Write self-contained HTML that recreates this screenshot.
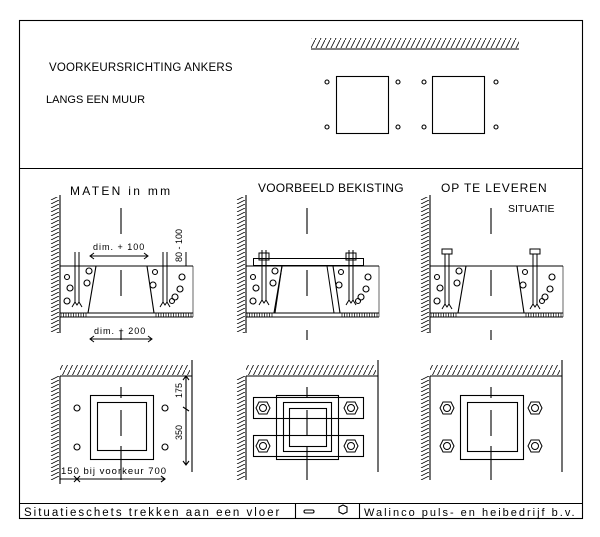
<!DOCTYPE html>
<html><head><meta charset="utf-8"><style>
html,body{margin:0;padding:0;background:#fff;}
svg{display:block;}
text{font-family:"Liberation Sans",sans-serif;fill:#000;}
</style></head><body>
<svg width="600" height="537" viewBox="0 0 600 537" xmlns="http://www.w3.org/2000/svg">
<defs>
<pattern id="hv" width="10" height="4" patternUnits="userSpaceOnUse">
<line x1="1" y1="4" x2="9" y2="0" stroke="#000" stroke-width="0.8"/>
</pattern>
<pattern id="hh" width="5" height="10" patternUnits="userSpaceOnUse">
<line x1="0" y1="10" x2="5" y2="0" stroke="#000" stroke-width="0.8"/>
</pattern>
<pattern id="hs" width="2.5" height="4" patternUnits="userSpaceOnUse">
<line x1="1" y1="0" x2="1" y2="4" stroke="#000" stroke-width="0.7"/>
</pattern>
<g id="sec" fill="none" stroke="#000" stroke-width="1.1">
<rect x="50" y="197" width="9" height="136" fill="url(#hv)" stroke="none"/>
<line x1="60" y1="195" x2="60" y2="333"/>
<line x1="60" y1="266" x2="193" y2="266"/>
<line x1="60" y1="313" x2="193" y2="313"/>
<line x1="60" y1="317" x2="193" y2="317"/>
<line x1="193" y1="266" x2="193" y2="317" stroke-width="0.6"/>
<line x1="96" y1="266" x2="88" y2="313"/>
<line x1="147" y1="266" x2="154" y2="313"/>
<rect x="61" y="313" width="27" height="4" fill="url(#hs)" stroke="none"/>
<rect x="154" y="313" width="38" height="4" fill="url(#hs)" stroke="none"/>
<circle cx="67" cy="277" r="2.5"/><circle cx="70" cy="288" r="3"/><circle cx="67" cy="301" r="3"/>
<circle cx="89" cy="271" r="3"/><circle cx="87" cy="283" r="3"/>
<circle cx="155" cy="272" r="2.5"/><circle cx="153" cy="285" r="3"/><circle cx="182" cy="277" r="3"/>
<circle cx="180" cy="289" r="3"/><circle cx="175" cy="297" r="3"/><circle cx="172" cy="301" r="2.5"/>
<line x1="121" y1="208" x2="121" y2="234"/>
<line x1="121" y1="270" x2="121" y2="296"/>
<line x1="121" y1="330" x2="121" y2="340"/>
</g>
<g id="anc" fill="none" stroke="#000" stroke-width="1">
<line x1="-2" y1="0" x2="-2" y2="50"/><line x1="2" y1="0" x2="2" y2="50"/>
<path d="M-5 55 L-2 50 L0 53 L2 50 L5 55"/>
</g>
<g id="plan" fill="none" stroke="#000" stroke-width="1.1">
<rect x="60" y="365" width="130" height="10" fill="url(#hh)" stroke="none"/>
<rect x="50" y="376" width="9" height="104" fill="url(#hv)" stroke="none"/>
<line x1="60" y1="376" x2="192" y2="376"/>
<line x1="60" y1="376" x2="60" y2="480"/>
<line x1="192" y1="360" x2="192" y2="472"/>
<line x1="121" y1="387" x2="121" y2="398"/>
<line x1="121" y1="410" x2="121" y2="436"/>
<line x1="121" y1="446" x2="121" y2="480"/>
</g>
<g id="nut" fill="none" stroke="#000" stroke-width="1">
<polygon points="-4,-6 4,-6 7,0 4,6 -4,6 -7,0"/><circle r="3.5"/>
</g>
</defs>
<g fill="none" stroke="#000" stroke-width="1.1">
<rect x="19.5" y="20.5" width="563" height="498"/>
<line x1="19" y1="168.5" x2="583" y2="168.5"/>
<line x1="19" y1="503.5" x2="583" y2="503.5"/>
<line x1="295.5" y1="503" x2="295.5" y2="519"/>
<line x1="359.5" y1="503" x2="359.5" y2="519"/>
<rect x="311" y="38" width="208" height="10" fill="url(#hh)" stroke="none"/>
<line x1="311" y1="49" x2="519" y2="49"/>
<rect x="336.5" y="76.5" width="52" height="57"/>
<rect x="432.5" y="76.5" width="52" height="57"/>
<circle cx="327" cy="82" r="2"/><circle cx="398" cy="82" r="2"/><circle cx="424" cy="82" r="2"/><circle cx="496" cy="82" r="2"/>
<circle cx="327" cy="127" r="2"/><circle cx="398" cy="127" r="2"/><circle cx="424" cy="127" r="2"/><circle cx="496" cy="127" r="2"/>
<rect x="304" y="510" width="10" height="3" rx="1.5"/>
<polygon points="343,505 347,507 347,512 343,514 339,512 339,507"/>
</g>
<use href="#sec"/>
<use href="#sec" transform="translate(186,0)"/>
<use href="#sec" transform="translate(370,0)"/>
<use href="#anc" transform="translate(77,252)"/>
<use href="#anc" transform="translate(165,252)"/>
<g fill="none" stroke="#000" stroke-width="1">
<line x1="90" y1="256" x2="148" y2="256"/><path d="M94 253 L90 256 L94 259 M144 253 L148 256 L144 259"/>
<line x1="90" y1="339" x2="152" y2="339"/><path d="M94 336 L90 339 L94 342 M148 336 L152 339 L148 342"/>
<line x1="186" y1="252" x2="186" y2="266"/>
<rect x="253.5" y="258.5" width="110" height="7"/>
<line x1="282" y1="266" x2="275" y2="313"/><line x1="327" y1="266" x2="334" y2="313"/>
<rect x="259" y="253" width="10" height="7"/><rect x="346" y="253" width="10" height="7"/>
<rect x="442" y="249" width="10" height="5"/><rect x="530" y="249" width="10" height="5"/>
</g>
<use href="#anc" transform="translate(264,250)"/>
<use href="#anc" transform="translate(351,250)"/>
<use href="#anc" transform="translate(447,254)"/>
<use href="#anc" transform="translate(535,254)"/>
<use href="#plan"/>
<use href="#plan" transform="translate(186,0)"/>
<use href="#plan" transform="translate(370,0)"/>
<g fill="none" stroke="#000" stroke-width="1.1">
<rect x="90.5" y="395.5" width="63" height="64"/><rect x="97.5" y="402.5" width="49" height="48"/>
<circle cx="77" cy="408" r="3"/><circle cx="165" cy="408" r="3"/><circle cx="77" cy="447" r="3"/><circle cx="165" cy="447" r="3"/>
<line x1="186" y1="376" x2="186" y2="465"/>
<path d="M183 380 L186 376 L189 380 M183 461 L186 465 L189 461"/>
<line x1="183" y1="407" x2="189" y2="411"/>
<line x1="60" y1="479" x2="165" y2="479"/>
<line x1="60" y1="474" x2="60" y2="484"/>
<line x1="74" y1="476" x2="80" y2="482"/><line x1="80" y1="476" x2="74" y2="482"/>
<path d="M161 476 L165 479 L161 482"/>
<rect x="253.5" y="397.5" width="110" height="21"/><rect x="253.5" y="435.5" width="110" height="21"/>
<rect x="276.5" y="395.5" width="62" height="64"/><rect x="283.5" y="402.5" width="48" height="49"/><rect x="289.5" y="408.5" width="37" height="38"/>
<rect x="460.5" y="395.5" width="63" height="64"/><rect x="467.5" y="402.5" width="50" height="49"/>
</g>
<use href="#nut" transform="translate(263,408)"/><use href="#nut" transform="translate(351,408)"/>
<use href="#nut" transform="translate(263,446)"/><use href="#nut" transform="translate(351,446)"/>
<use href="#nut" transform="translate(447,408)"/><use href="#nut" transform="translate(535,408)"/>
<use href="#nut" transform="translate(447,446)"/><use href="#nut" transform="translate(535,446)"/>
<g font-size="11">
<text x="49" y="71" font-size="11.5" letter-spacing="0.2">VOORKEURSRICHTING ANKERS</text>
<text x="46" y="103">LANGS EEN MUUR</text>
<text x="70" y="195" font-size="12" letter-spacing="2.3">MATEN  in mm</text>
<text x="258" y="192" font-size="12" letter-spacing="0.2">VOORBEELD BEKISTING</text>
<text x="441" y="192" font-size="12" letter-spacing="0.9">OP TE LEVEREN</text>
<text x="508" y="212" font-size="10.5">SITUATIE</text>
<text x="93" y="250" font-size="9" letter-spacing="1">dim. + 100</text>
<text x="94" y="334" font-size="9" letter-spacing="1">dim. + 200</text>
<text transform="translate(182,262) rotate(-90)" font-size="9">80 - 100</text>
<text transform="translate(182,398) rotate(-90)" font-size="9">175</text>
<text transform="translate(182,440) rotate(-90)" font-size="9">350</text>
<text x="61" y="474" font-size="9.5" letter-spacing="1">150 bij voorkeur 700</text>
<text x="24" y="516" font-size="11.5" letter-spacing="2">Situatieschets trekken aan een vloer</text>
<text x="364" y="516" font-size="11" letter-spacing="2">Walinco puls- en heibedrijf b.v.</text>
</g>
</svg>
</body></html>
